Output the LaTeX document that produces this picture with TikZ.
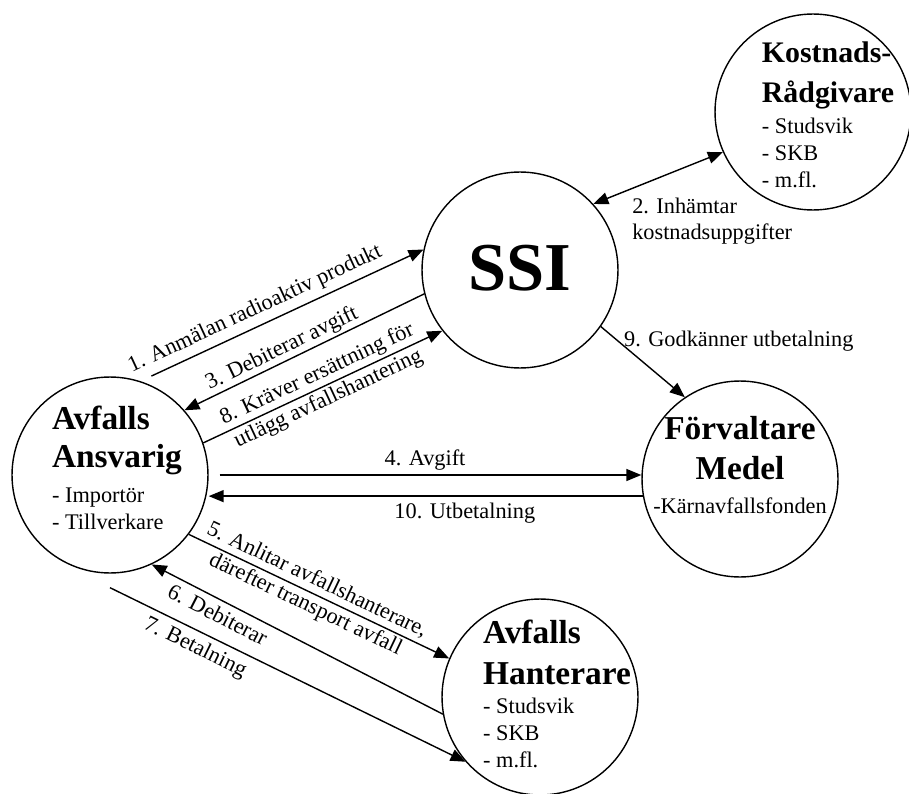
\documentclass[tikz,border=0pt]{standalone}
\usepackage{fontspec}
\setmainfont{Liberation Serif}
\usetikzlibrary{arrows.meta, positioning}

\begin{document}
\begin{tikzpicture}[x=0.02cm, y=-0.02cm,
                font=\fontsize{12.7}{15.3}\selectfont,
                party/.style={draw, circle, line width=0.8pt, minimum size=3.92cm, inner sep=0pt},
                partytext/.style={align=left, inner sep=0pt},
                flow/.style={line width=0.8pt, -{Triangle[length=0.3cm, width=0.24cm]}},
                twoway/.style={line width=0.8pt, {Triangle[length=0.3cm, width=0.24cm]}-{Triangle[length=0.3cm, width=0.24cm]}}]

                \useasboundingbox (0,0) rectangle (909,794);

                % Parties
                \node[party] (ssi) at (520,270) {};
                \node[party] (kost) at (813,112) {};
                \node[party] (ans) at (110,475) {};
                \node[party] (forv) at (740,479) {};
                \node[party] (hant) at (540,697) {};

                % Party texts
                \node[font=\fontsize{39}{42}\selectfont\bfseries] (ssitext) at ([yshift=0.04cm]ssi.center) {SSI};
                \node[partytext] at ([xshift=0.3cm, yshift=-0.06cm]kost.center) (kosttext)
                    {{\bfseries\fontsize{17}{20}\selectfont Kostnads-}\\[7.4pt]
                     {\bfseries\fontsize{17}{20}\selectfont Rådgivare}\\[2.3pt]
                     - Studsvik\\ - SKB\\ - m.fl.};
                \node[partytext] at ([xshift=0.14cm, yshift=0.14cm]ans.center) (anstext)
                    {{\bfseries\fontsize{19}{22}\selectfont Avfalls}\\[6.2pt]
                     {\bfseries\fontsize{19}{22}\selectfont Ansvarig}\\[4.5pt]
                     - Importör\\ - Tillverkare};
                \node[partytext, align=center] at ([yshift=0.28cm]forv.center) (forvtext)
                    {{\bfseries\fontsize{19}{22}\selectfont Förvaltare}\\[7.4pt]
                     {\bfseries\fontsize{19}{22}\selectfont Medel}\\[4.5pt]
                     -Kärnavfallsfonden};
                \node[partytext] at ([xshift=0.34cm, yshift=0.06cm]hant.center) (hanttext)
                    {{\bfseries\fontsize{19}{22}\selectfont Avfalls}\\[7.9pt]
                     {\bfseries\fontsize{19}{22}\selectfont Hanterare}\\[1.1pt]
                     - Studsvik\\ - SKB\\ - m.fl.};

                % SSI and advisers
                \draw[twoway] (ssi.42) -- node[pos=0.25, anchor=north west, align=left] (lab2)
                    {2. Inhämtar\\kostnadsuppgifter} (kost.204);

                % Responsible party and SSI
                \draw[flow, shorten <=0.24cm] (ans.72) -- node[above, sloped, pos=0.43] (lab1)
                    {1. Anmälan radioaktiv produkt} (ssi.168);
                \draw[flow] (ssi.194) -- node[above, sloped, pos=0.57, inner sep=1pt] (lab3)
                    {3. Debiterar avgift} (ans.41);
                \draw[flow] (ans.19) -- node[sloped, pos=0.5, align=center] (lab8)
                    {8. Kräver ersättning för\\utlägg avfallshantering} (ssi.218);

                % Fund
                \draw[flow] (ssi.-35) -- node[pos=0.2, right] (lab9) {9. Godkänner utbetalning} (forv.124);
                \draw[flow, shorten <=0.22cm] (ans.east) -- node[above, inner sep=2pt] (lab4) {4. Avgift} (ans.east -| forv.west);
                \draw[flow] (forv.190) -- node[below, pos=0.41] (lab10) {10. Utbetalning} (forv.190 -| ans.east);

                % Waste handler
                \draw[flow] (ans.-37) -- node[sloped, pos=0.47, align=center] (lab5)
                    {5. Anlitar avfallshanterare,\\därefter transport avfall} (hant.157);
                \draw[flow] (hant.190) -- node[below, sloped, pos=0.75] (lab6) {6. Debiterar} (ans.-65);
                \draw[flow] ([yshift=-0.28cm]ans.south) -- node[below, sloped, pos=0.26] (lab7)
                    {7. Betalning} (hant.221);
            \end{tikzpicture}
\end{document}
